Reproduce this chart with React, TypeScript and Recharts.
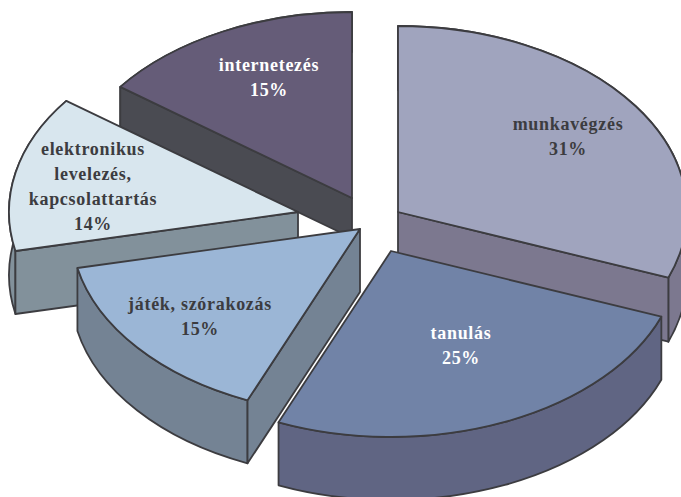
import { PieChart, Pie } from 'recharts';

// shares as printed in the picture, clockwise from 12 o'clock
const categories = ['munkavégzés', 'tanulás', 'játék, szórakozás', 'elektronikus levelezés, kapcsolattartás', 'internetezés'];
const shares = [31, 25, 15, 14, 15];
const labelLines = [['munkavégzés'], ['tanulás'], ['játék, szórakozás'], ['elektronikus', 'levelezés,', 'kapcsolattartás'], ['internetezés']];

// look of each slice
const topColors = ['#a0a4be', '#7183a7', '#9bb6d6', '#d8e6ee', '#655c78'];
const wallColors = ['#7c788f', '#606583', '#748394', '#82919b', '#4a4b52'];
const textColors = ['#3c3c40', '#ffffff', '#3c3c40', '#3c3c40', '#ffffff'];
// slices were dragged out by hand, so each has its own tip
const tips = [[398, 212], [391, 251], [360, 229], [298, 212], [352, 198]];
const depths = [64, 63, 63, 63, 40];
const labelPos = [[568, 126], [461, 335], [200, 306], [93, 151], [269, 67]];
// perspective skews the edge after each slice a little, in degrees clockwise
const edgeSkew = [-0.9, 1.3, 2.3, 0.7, 0];
// back to front
const paintOrder = [4, 3, 0, 2, 1];

const pieData = categories.map((name, i) => ({ name, value: shares[i], idx: i }));

const RX = 289;
const RY = 186;
const STROKE = '#3c3c40';

function Slice(props: any) {
  const i = props.payload?.idx ?? props.idx;
  const [tx, ty] = tips[i];
  const d = depths[i];
  const pt = (deg: number) => {
    const a = (deg * Math.PI) / 180;
    return [tx + RX * Math.cos(a), ty - RY * Math.sin(a)];
  };
  const [sx, sy] = pt(props.startAngle - (i > 0 ? edgeSkew[i - 1] : 0));
  const [ex, ey] = pt(props.endAngle - edgeSkew[i]);
  const large = Math.abs(props.startAngle - props.endAngle) > 180 ? 1 : 0;
  const common = { stroke: STROKE, strokeWidth: 1.8, strokeLinejoin: 'round' as const };
  const lines = [...labelLines[i], `${shares[i]}%`];
  const [lx, ly] = labelPos[i];
  return (
    <g>
      <path
        d={`M${sx},${sy} A${RX},${RY} 0 ${large} 1 ${ex},${ey} L${ex},${ey + d} A${RX},${RY} 0 ${large} 0 ${sx},${sy + d} Z`}
        fill={wallColors[i]}
        {...common}
      />
      {/* only the radial wall that faces the viewer */}
      {sx < tx - 1 && <path d={`M${tx},${ty} L${sx},${sy} L${sx},${sy + d} L${tx},${ty + d} Z`} fill={wallColors[i]} {...common} />}
      {ex > tx + 1 && <path d={`M${tx},${ty} L${ex},${ey} L${ex},${ey + d} L${tx},${ty + d} Z`} fill={wallColors[i]} {...common} />}
      <path d={`M${tx},${ty} L${sx},${sy} A${RX},${RY} 0 ${large} 1 ${ex},${ey} Z`} fill={topColors[i]} {...common} />
      {lines.map((t, n) => (
        <text
          key={n}
          x={lx}
          y={ly + n * 25}
          textAnchor="middle"
          dominantBaseline="middle"
          fontFamily="Liberation Serif"
          fontWeight="bold"
          fontSize={18}
          letterSpacing={0.7}
          fill={textColors[i]}
        >
          {t}
        </text>
      ))}
    </g>
  );
}

export default function App() {
  return (
    <div style={{ position: 'absolute', left: 0, top: 0, width: 681, height: 497, background: '#fff', overflow: 'hidden' }}>
      <PieChart width={681} height={497} margin={{ top: 0, right: 0, bottom: 0, left: 0 }}>
        {paintOrder.map((only) => (
          <Pie
            key={only}
            data={pieData}
            dataKey="value"
            nameKey="name"
            cx={350}
            cy={220}
            innerRadius={0}
            outerRadius={RX}
            startAngle={90}
            endAngle={-270}
            isAnimationActive={false}
            legendType="none"
            shape={(props: any) => ((props.payload?.idx ?? props.idx) === only ? <Slice {...props} /> : <g />)}
          />
        ))}
      </PieChart>
    </div>
  );
}
